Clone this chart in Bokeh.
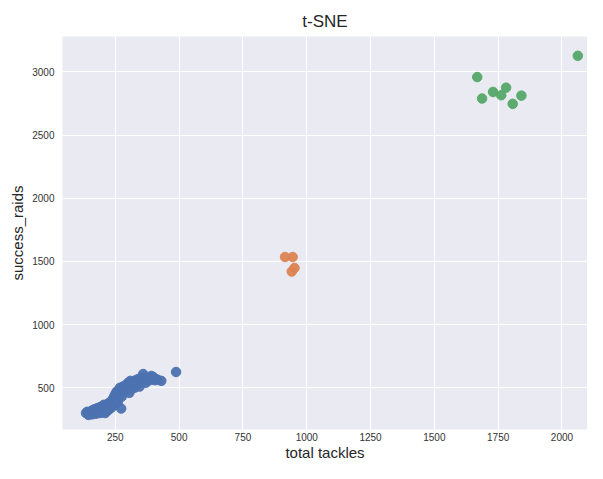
from bokeh.plotting import figure
from bokeh.models import Range1d, FixedTicker
from bokeh.embed import file_html
from bokeh.resources import INLINE

# cluster 0 (blue)
blue_tackles = [135, 140, 145, 150, 155, 158, 160, 165, 168, 170, 175, 178, 180, 185, 188, 190,
                193, 195, 198, 200, 203, 205, 208, 210, 213, 215, 218, 220, 223, 225, 228, 230,
                233, 235, 238, 240, 243, 245, 248, 250, 253, 255, 258, 260, 263, 265, 268, 270,
                273, 275, 278, 280, 285, 290, 295, 300, 305, 309, 312, 315, 320, 325, 330, 335,
                340, 345, 350, 355, 359, 365, 370, 378, 385, 391, 398, 405, 415, 430, 488]
blue_raids = [300, 310, 285, 295, 305, 320, 290, 300, 330, 310, 295, 320, 340, 310, 330, 300,
              350, 320, 335, 310, 345, 365, 330, 300, 355, 340, 370, 320, 345, 380, 360, 335,
              375, 395, 350, 410, 380, 430, 365, 450, 400, 470, 420, 390, 480, 440, 500, 460,
              336, 430, 490, 510, 470, 520, 490, 540, 460, 555, 492, 520, 545, 500, 560, 530,
              570, 510, 545, 580, 609, 560, 540, 575, 560, 594, 586, 560, 565, 555, 625]
# cluster 1 (orange)
orange_tackles = [915, 945, 952, 941]
orange_raids = [1535, 1535, 1448, 1420]
# cluster 2 (green)
green_tackles = [2062, 1668, 1687, 1730, 1762, 1781, 1807, 1841]
green_raids = [3127, 2959, 2789, 2841, 2815, 2875, 2747, 2812]

x_ticks = [250, 500, 750, 1000, 1250, 1500, 1750, 2000]
y_ticks = [500, 1000, 1500, 2000, 2500, 3000]

FONT = "Liberation Sans"

p = figure(width=587, height=463, output_backend="svg", toolbar_location=None,
           x_range=Range1d(43, 2100), y_range=Range1d(170, 3280),
           title="t-SNE")
p.min_border = 0
p.min_border_left = 62
p.min_border_right = 0
p.min_border_top = 36
p.min_border_bottom = 30
p.outline_line_color = None
p.background_fill_color = "#eaeaf2"
p.border_fill_color = "white"

p.title.align = "center"
p.title.text_font = FONT
p.title.text_font_size = "17px"
p.title.text_font_style = "normal"
p.title.text_color = "#262626"
p.title.offset = 0
p.title.standoff = 12

p.scatter(blue_tackles, blue_raids, size=9.5, color="#4c72b0", alpha=0.95)
p.scatter(orange_tackles, orange_raids, size=9.5, color="#dd8452", alpha=0.95)
p.scatter(green_tackles, green_raids, size=9.5, color="#55a868", alpha=0.95)

p.xaxis.ticker = FixedTicker(ticks=x_ticks)
p.yaxis.ticker = FixedTicker(ticks=y_ticks)
for ax in (p.xaxis[0], p.yaxis[0]):
    ax.axis_line_color = None
    ax.major_tick_line_color = None
    ax.minor_tick_line_color = None
    ax.major_tick_out = 0
    ax.major_tick_in = 0
    ax.minor_tick_out = 0
    ax.minor_tick_in = 0
    ax.major_label_text_font = FONT
    ax.major_label_text_font_size = "10px"
    ax.major_label_text_color = "#333333"
    ax.axis_label_text_font = FONT
    ax.axis_label_text_font_size = "15px"
    ax.axis_label_text_font_style = "normal"
    ax.axis_label_text_color = "#262626"
p.xaxis.axis_label = "total tackles"
p.yaxis.axis_label = "success_raids"
p.xaxis.major_label_standoff = 3
p.yaxis.major_label_standoff = 8
p.xaxis.axis_label_standoff = 0
p.yaxis.axis_label_standoff = 3

p.xgrid.grid_line_color = "white"
p.ygrid.grid_line_color = "white"
p.xgrid.grid_line_width = 1
p.ygrid.grid_line_width = 1

open("out.html", "w").write(file_html(p, INLINE))
